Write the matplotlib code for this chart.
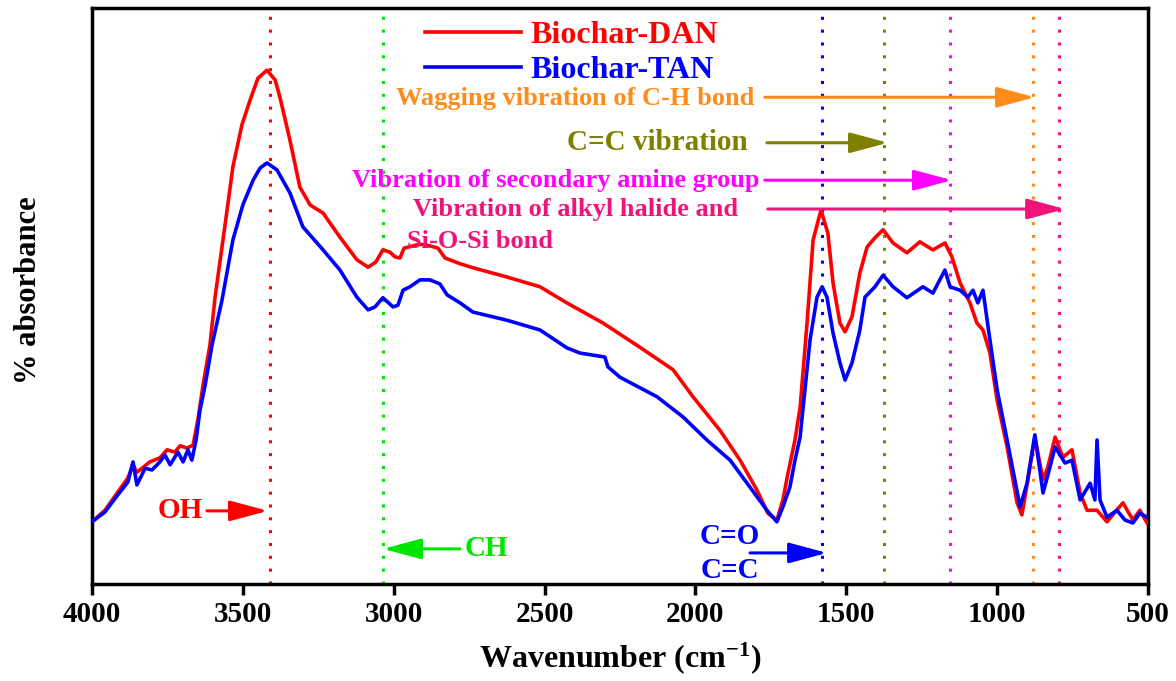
import matplotlib
matplotlib.use("Agg")
import matplotlib.pyplot as plt
import numpy as np

# ---------------- data ----------------
dan_wn = [4000, 3957, 3914, 3881, 3864, 3851, 3808, 3775, 3751, 3725, 3708, 3685, 3665,
          3649, 3632, 3609, 3592, 3559, 3533, 3503, 3476, 3450, 3420, 3393, 3377, 3344,
          3311, 3277, 3234, 3178, 3122, 3085, 3059, 3036, 3012, 2996, 2979, 2966, 2936,
          2913, 2880, 2853, 2830, 2780, 2737, 2625, 2515, 2426, 2306, 2184, 2074, 2008,
          1919, 1852, 1796, 1760, 1730, 1710, 1693, 1670, 1653, 1630, 1610, 1584, 1561,
          1544, 1521, 1504, 1481, 1455, 1431, 1405, 1378, 1345, 1299, 1256, 1213, 1173,
          1150, 1123, 1090, 1067, 1047, 1024, 1000, 967, 934, 918, 898, 875, 848, 832,
          808, 782, 752, 725, 702, 669, 636, 609, 583, 550, 527, 503]
dan_abs = [10.8, 12.8, 16.0, 18.4, 20.7, 19.4, 21.2, 21.9, 23.3, 22.9, 24.0, 23.6, 24.1,
           28.5, 34.5, 41.5, 49.8, 62.3, 72.4, 79.7, 84.0, 87.8, 89.2, 87.5, 84.5, 77.1,
           68.9, 65.8, 64.4, 60.2, 56.3, 55.0, 55.9, 58.0, 57.6, 56.8, 56.6, 58.3, 58.7,
           59.0, 58.7, 58.3, 56.6, 55.6, 54.9, 53.3, 51.6, 48.8, 45.3, 41.1, 37.2, 32.5,
           26.7, 21.5, 16.3, 12.3, 11.1, 14.6, 19.3, 25.0, 30.7, 45.3, 59.7, 64.9, 60.9,
           52.3, 45.3, 43.8, 46.4, 54.0, 58.5, 60.1, 61.5, 59.2, 57.5, 59.4, 58.0, 59.2,
           56.8, 52.3, 48.8, 45.3, 44.1, 40.1, 31.9, 23.8, 14.1, 12.0, 18.1, 25.5, 18.1, 20.3,
           25.5, 22.0, 23.3, 15.8, 12.8, 12.8, 10.8, 12.5, 14.1, 11.1, 12.8, 10.6]

tan_wn = [4000, 3957, 3914, 3881, 3864, 3851, 3824, 3801, 3775, 3758, 3741, 3715, 3698,
          3682, 3669, 3655, 3642, 3625, 3602, 3569, 3533, 3500, 3466, 3443, 3420, 3387,
          3344, 3301, 3234, 3178, 3122, 3085, 3062, 3036, 3002, 2986, 2969, 2946, 2913,
          2880, 2847, 2823, 2780, 2737, 2625, 2515, 2426, 2383, 2300, 2290, 2250, 2127,
          2041, 1962, 1885, 1819, 1763, 1730, 1710, 1687, 1670, 1653, 1643, 1620, 1597,
          1580, 1564, 1544, 1521, 1504, 1481, 1455, 1438, 1405, 1378, 1345, 1299, 1246,
          1213, 1173, 1156, 1123, 1097, 1080, 1064, 1047, 1024, 1000, 967, 924, 901, 875,
          848, 825, 808, 775, 752, 725, 692, 676, 669, 659, 636, 603, 576, 550, 527, 503]
tan_abs = [10.8, 12.5, 15.5, 17.7, 21.2, 17.2, 20.1, 19.8, 21.2, 22.4, 20.7, 22.9, 21.2,
           23.3, 21.5, 25.0, 30.2, 34.5, 41.5, 49.3, 59.7, 65.8, 70.1, 72.2, 73.1, 71.9,
           67.9, 62.0, 58.0, 54.5, 49.8, 47.6, 48.1, 49.7, 48.1, 48.4, 51.0, 51.6, 52.8,
           52.8, 52.1, 50.2, 48.8, 47.2, 45.8, 44.1, 41.0, 40.1, 39.4, 37.7, 35.9, 32.5,
           29.0, 25.0, 21.5, 16.8, 12.8, 10.8, 13.4, 16.8, 21.5, 25.5, 30.7, 42.4, 49.8,
           51.6, 49.8, 43.6, 38.4, 35.4, 38.4, 44.1, 49.8, 51.6, 53.6, 51.6, 49.7, 51.6,
           50.5, 54.5, 51.6, 51.0, 49.8, 51.0, 48.8, 51.0, 42.4, 33.7, 25.0, 13.4, 17.5, 25.9,
           15.8, 20.3, 23.8, 21.0, 21.5, 14.6, 17.5, 14.6, 25.0, 14.6, 11.6, 12.8, 11.1, 10.6, 12.3, 11.6]

series_labels = ["Biochar-DAN", "Biochar-TAN"]
xticks = [4000, 3500, 3000, 2500, 2000, 1500, 1000, 500]

# band marker positions (cm-1) and colours
band_wn = [3410, 3035, 1580, 1375, 1155, 880, 795]
band_colors = ["#FF0000", "#00E600", "#0000FF", "#808000", "#FF00FF", "#FF8C1A", "#F0147A"]

plt.rcParams['font.family'] = ['Liberation Serif', 'DejaVu Serif']
plt.rcParams['font.weight'] = 'bold'
plt.rcParams['mathtext.fontset'] = 'custom'
plt.rcParams['mathtext.rm'] = 'Liberation Serif:bold'
plt.rcParams['mathtext.bf'] = 'Liberation Serif:bold'
plt.rcParams['mathtext.it'] = 'Liberation Serif:bold'
plt.rcParams['mathtext.default'] = 'rm'

fig = plt.figure(figsize=(11.76, 6.81), dpi=100)
ax = fig.add_axes([0.0782, 0.1424, 0.898, 0.8459])

ax.plot(dan_wn, dan_abs, color="#FF0000", lw=2.6, label=series_labels[0], zorder=3)
ax.plot(tan_wn, tan_abs, color="#0000FF", lw=2.6, label=series_labels[1], zorder=4)

for w, c in zip(band_wn, band_colors):
    ax.axvline(w, color=c, lw=2.2, linestyle=(0, (1, 3.2)), zorder=2)

ax.set_xlim(4000, 500)
ax.set_ylim(0, 100)
ax.set_xticks(xticks)
ax.set_yticks([])
ax.tick_params(axis='x', direction='out', length=8, width=2.5, labelsize=21, pad=4)
for lab in ax.get_xticklabels():
    lab.set_fontweight('bold')
for s in ax.spines.values():
    s.set_linewidth(2.5)

ax.set_xlabel("Wavenumber (cm$^{-1}$)", fontsize=23, fontweight='bold')
ax.xaxis.set_label_coords(0.5, -0.097)
ax.set_ylabel("% absorbance", fontsize=22, fontweight='bold')
ax.yaxis.set_label_coords(-0.046, 0.51)

leg = ax.legend(loc='upper left', bbox_to_anchor=(0.303, 1.0), borderaxespad=0,
                frameon=False,
                prop={'family': 'Liberation Serif', 'weight': 'bold', 'size': 23},
                handlelength=3.0, handletextpad=0.3, labelspacing=0.18,
                labelcolor='linecolor')
for h in leg.legend_handles:
    h.set_linewidth(2.6)

def arrow(x0, x1, y, color):
    ax.annotate("", xy=(x1, y), xytext=(x0, y),
                arrowprops=dict(arrowstyle='-|>,head_length=1.3,head_width=0.35',
                                color=color, lw=2.2, shrinkA=0, shrinkB=0,
                                mutation_scale=18), zorder=5)

tk = dict(fontweight='bold', fontsize=19)
ax.text(1803, 84.2, "Wagging vibration of C-H bond", color="#FF8C1A", ha='right', va='center', **tk)
arrow(1770, 875, 84.5, "#FF8C1A")
ax.text(1826, 76.7, "C=C vibration", color="#808000", ha='right', va='center',
        fontweight='bold', fontsize=21)
arrow(1763, 1362, 76.6, "#808000")
ax.text(1786, 70.1, "Vibration of secondary amine group", color="#FF00FF", ha='right', va='center', **tk)
arrow(1770, 1150, 70.1, "#FF00FF")
ax.text(1859, 65.1, "Vibration of alkyl halide and", color="#F0147A", ha='right', va='center', **tk)
arrow(1760, 775, 65.1, "#F0147A")
ax.text(2714, 59.4, "Si-O-Si bond", color="#F0147A", ha='center', va='center', **tk)

ax.text(3632, 12.7, "OH", color="#FF0000", ha='right', va='center', fontweight='bold', fontsize=21)
arrow(3619, 3417, 12.7, "#FF0000")
ax.text(2764, 6.1, "CH", color="#00E600", ha='left', va='center', fontweight='bold', fontsize=21)
arrow(2780, 3035, 6.1, "#00E600")
ax.text(1886, 8.3, "C=O", color="#0000FF", ha='center', va='center', fontweight='bold', fontsize=21)
ax.text(1886, 2.4, "C=C", color="#0000FF", ha='center', va='center', fontweight='bold', fontsize=21)
arrow(1819, 1564, 5.4, "#0000FF")

fig.savefig("out.png", dpi=100)
